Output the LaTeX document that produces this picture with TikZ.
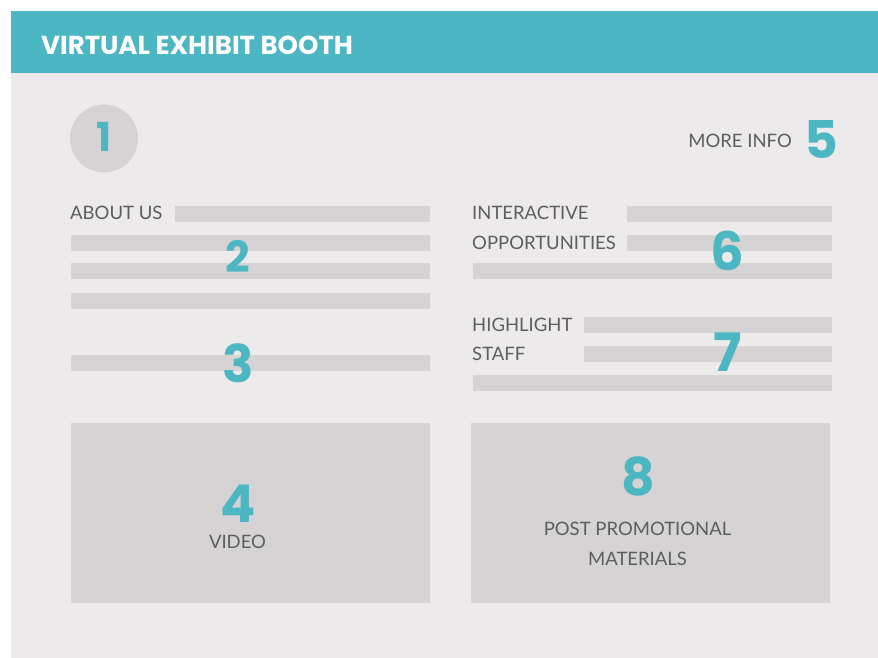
\documentclass[tikz,border=0pt]{standalone}
\usepackage{fontspec}
\setmainfont{Lato}
\newfontfamily\heavyfont{Poppins}
\definecolor{tealc}{HTML}{4DB6C3}
\definecolor{bodyc}{HTML}{ECEAEB}
\definecolor{barc}{HTML}{D5D3D4}
\definecolor{txtc}{HTML}{5E5E5E}
\tikzset{
  bar/.style={fill=barc, draw=none},
  lbl/.style={text=txtc, inner sep=0pt, anchor=base west, font=\fontsize{18.5}{18.5}\selectfont},
  clbl/.style={text=txtc, inner sep=0pt, anchor=base, text height=13.5pt, font=\fontsize{18.5}{18.5}\selectfont},
  num/.style={text=tealc, inner sep=0pt, anchor=base, text depth=0pt},
}
\newcommand{\dg}[1]{\fontsize{#1}{#1}\heavyfont\bfseries}
\begin{document}
\begin{tikzpicture}[x=1pt,y=-1pt]
\useasboundingbox (0,0) rectangle (878,658);
\fill[white] (0,0) rectangle (878,658);
% body and header
\fill[bodyc] (11,73) rectangle (878,658);
\fill[tealc] (11,11) rectangle (878,73);
\node[inner sep=0pt, anchor=base west, text=white, font=\fontsize{26}{26}\heavyfont\bfseries] (title) at (41,54.5) {VIRTUAL EXHIBIT BOOTH};
% circle 1
\fill[barc] (104,138.5) circle (34);
\node[num, font=\dg{40}] (n1) at (104,152) {1};
% more info
\node[lbl, anchor=base east] (more) at (792,147) {MORE INFO};
\node[num, font=\dg{52}] (n5) at (821.5,158) {5};
% left column bars
\fill[bar] (175,206) rectangle (430,222);
\fill[bar] (71,235) rectangle (430,251);
\fill[bar] (71,263) rectangle (430,279);
\fill[bar] (71,293) rectangle (430,309);
\fill[bar] (71,355) rectangle (430,371);
\node[lbl] (about) at (70,219) {ABOUT US};
\node[num, font=\dg{43}] (n2) at (238,272) {2};
\node[num, font=\dg{52}] (n3) at (238,382) {3};
% right column bars
\fill[bar] (627,206) rectangle (832,222);
\fill[bar] (627,235) rectangle (832,251);
\fill[bar] (473,263) rectangle (832,279);
\fill[bar] (584,317) rectangle (832,333);
\fill[bar] (584,346) rectangle (832,362);
\fill[bar] (473,375) rectangle (832,391);
\node[lbl] (inter) at (472,219) {INTERACTIVE};
\node[lbl] (oppo) at (472,249) {OPPORTUNITIES};
\node[lbl] (high) at (472,331) {HIGHLIGHT};
\node[lbl] (staff) at (472,360.5) {STAFF};
\node[num, font=\dg{53}] (n6) at (727.5,270) {6};
\node[num, font=\dg{53}] (n7) at (727.5,371) {7};
% bottom boxes
\fill[bar] (71,423) rectangle (430,603);
\fill[bar] (471,423) rectangle (830,603);
\node[num, font=\dg{52}] (n4) at (238,522) {4};
\node[clbl] (video) at (237.5,548) {VIDEO};
\node[num, font=\dg{52}] (n8) at (638,495) {8};
\node[clbl] (post) at (637.5,535.5) {POST PROMOTIONAL};
\node[clbl] (mat) at (637.5,565) {MATERIALS};
\end{tikzpicture}
\end{document}
